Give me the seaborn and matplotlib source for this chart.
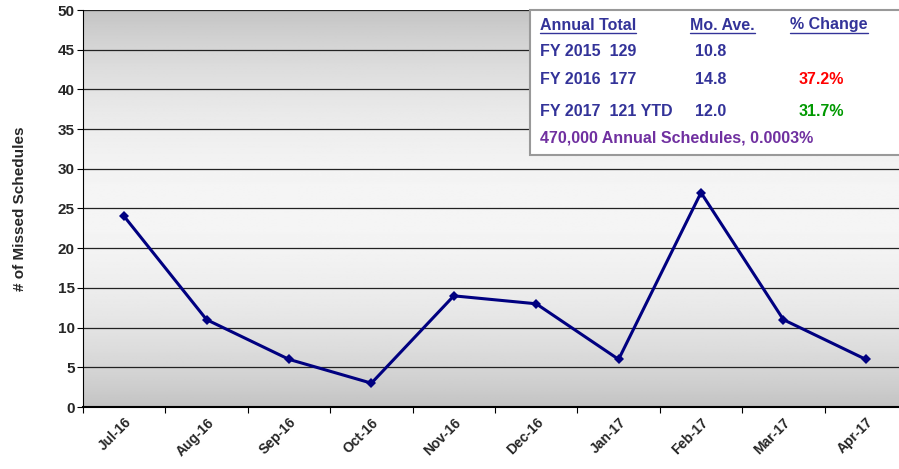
import numpy as np
import pandas as pd
import matplotlib.pyplot as plt
import matplotlib.patches as mpatches
import seaborn as sns

months = ['Jul-16', 'Aug-16', 'Sep-16', 'Oct-16', 'Nov-16',
          'Dec-16', 'Jan-17', 'Feb-17', 'Mar-17', 'Apr-17']
missed = [24, 11, 6, 3, 14, 13, 6, 27, 11, 6]

headers = ['Annual Total', 'Mo. Ave.', '% Change']
fy_rows = ['FY 2015  129', 'FY 2016  177', 'FY 2017  121 YTD']
mo_ave = ['10.8', '14.8', '12.0']
pct_change = ['', '37.2%', '31.7%']
footnote = '470,000 Annual Schedules, 0.0003%'

df = pd.DataFrame({'month': months, 'missed': missed})

sns.set_style('white')
plt.rcParams['font.family'] = ['Liberation Sans', 'DejaVu Sans']
plt.rcParams['font.weight'] = 'bold'

W, H = 899, 469
fig = plt.figure(figsize=(W / 100, H / 100), dpi=100)
# plot area runs past the right edge of the image, like the original crop
ax = fig.add_axes([83 / W, 1 - 407 / H, (907 - 83) / W, (407 - 10) / H])

# vertical gray gradient background: dark top/bottom, light middle
t = np.linspace(0, 1, 256)
shade = 0.76 + 0.2 * np.sin(np.pi * t) ** 0.8
grad = np.repeat(shade[:, None], 2, axis=1)
ax.imshow(grad, cmap='gray', vmin=0, vmax=1, aspect='auto',
          extent=(-0.5, 9.5, 0, 50), zorder=0, origin='lower')

for yv in range(5, 51, 5):
    ax.axhline(yv, color='#222222', lw=0.9, zorder=1)

sns.lineplot(data=df, x='month', y='missed', ax=ax, color='#000080',
             lw=2.2, marker='D', markersize=5, markeredgewidth=0,
             sort=False, zorder=3)

ax.set_xlim(-0.5, 9.5)
ax.set_ylim(0, 50)
ax.set_yticks(range(0, 51, 5))
ax.set_xticks(np.arange(-0.5, 9.5, 1), minor=False)
ax.set_xticklabels([])
ax.set_xticks(range(10), minor=True)
ax.set_xticklabels(months, minor=True, rotation=45, ha='right',
                   rotation_mode='anchor', fontsize=10, fontweight='bold')
ax.tick_params(axis='x', which='minor', length=0, pad=6)
ax.tick_params(axis='x', which='major', length=4, direction='out',
               color='black', bottom=True)
ax.tick_params(axis='y', length=4, direction='out', color='black', left=True,
               labelsize=11, pad=2)
for lab in ax.get_yticklabels():
    lab.set_fontweight('bold')
ax.set_xlabel('')
ax.set_ylabel('# of Missed Schedules', fontsize=11, fontweight='bold',
              labelpad=22)
for side in ['top', 'right']:
    ax.spines[side].set_visible(False)
ax.spines['left'].set_color('black')
ax.spines['bottom'].set_color('black')
ax.spines['bottom'].set_linewidth(1.5)

# summary box
box = mpatches.Rectangle((530 / W, 1 - 155 / H), (W - 530 + 5) / W, 145 / H,
                         transform=fig.transFigure, facecolor='white',
                         edgecolor='#999999', lw=1.5, zorder=5)
fig.patches.append(box)

blue = '#333399'
def ftext(x, y, s, color=blue, size=11.5):
    return fig.text(x / W, 1 - y / H, s, color=color, fontsize=size,
                    fontweight='bold', va='center', ha='left', zorder=6)

hx = [540, 690, 790]
for x, s in zip(hx, headers):
    txt = ftext(x, 25, s)
    fig.canvas.draw()
    bb = txt.get_window_extent()
    fig.add_artist(plt.Line2D([bb.x0 / W, bb.x1 / W],
                              [1 - 33 / H, 1 - 33 / H],
                              transform=fig.transFigure, color=blue, lw=1,
                              zorder=6))

row_y = [52, 80, 111]
pct_colors = [blue, '#ff0000', '#009900']
for y, a, b, c, col in zip(row_y, fy_rows, mo_ave, pct_change, pct_colors):
    ftext(540, y, a)
    ftext(695, y, b)
    ftext(799, y, c, color=col)
ftext(540, 138, footnote, color='#7030a0')

fig.savefig('out.png', dpi=100)
